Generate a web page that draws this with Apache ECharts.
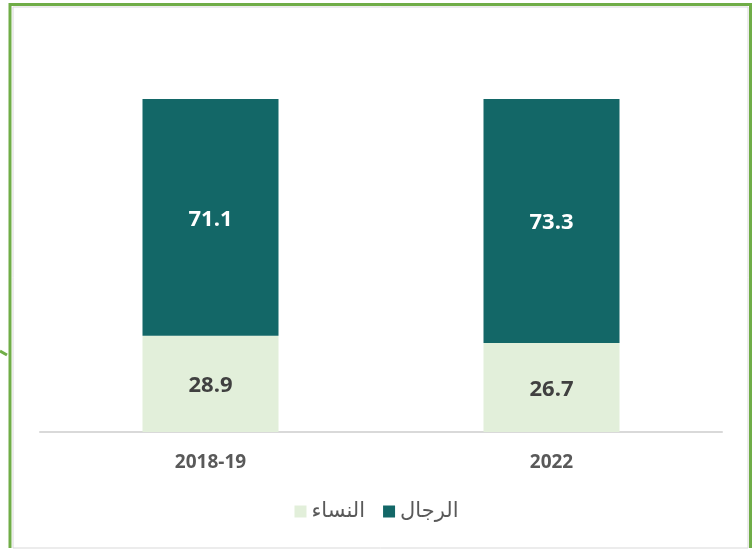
<!DOCTYPE html>
<html>
<head>
<meta charset="utf-8">
<script src="https://cdn.jsdelivr.net/npm/echarts@6/dist/echarts.min.js"></script>
<style>
  html, body { margin: 0; padding: 0; background: #fff; }
  #main { width: 753px; height: 552px; }
</style>
</head>
<body>
<div id="main"></div>
<script>
// categories and values (percent)
var years = ['2018-19', '2022'];
var women = [28.9, 26.7];
var men = [71.1, 73.3];
var womenName = 'النساء';
var menName = 'الرجال';

var dom = document.getElementById('main');
var chart = echarts.init(dom);

var option = {
    animation: false,
    textStyle: { fontFamily: '"Open Sans", "DejaVu Sans", sans-serif' },
    grid: { left: 40, right: 31, top: 99, bottom: 120 },
    legend: {
        data: [womenName, menName],
        bottom: 25,
        left: 'center',
        itemWidth: 12,
        itemHeight: 12,
        itemGap: 18,
        icon: 'rect',
        textStyle: { color: '#595959', fontSize: 21, fontFamily: '"DejaVu Sans", sans-serif' }
    },
    xAxis: {
        type: 'category',
        data: years,
        axisLine: { lineStyle: { color: '#d9d9d9', width: 2 } },
        axisTick: { show: false },
        axisLabel: { color: '#595959', fontSize: 19, fontWeight: 'bold', margin: 21 }
    },
    yAxis: {
        type: 'value',
        min: 0,
        max: 100,
        show: false
    },
    series: [
        {
            name: womenName,
            type: 'bar',
            stack: 'total',
            barWidth: 136,
            data: women,
            itemStyle: { color: '#e2efda' },
            label: {
                show: true,
                color: '#404040',
                fontSize: 22,
                fontWeight: 'bold',
                offset: [0, 2],
                formatter: function (p) { return p.value.toFixed(1); }
            }
        },
        {
            name: menName,
            type: 'bar',
            stack: 'total',
            barWidth: 136,
            data: men,
            itemStyle: { color: '#136767' },
            label: {
                show: true,
                color: '#ffffff',
                fontSize: 22,
                fontWeight: 'bold',
                offset: [0, 2],
                formatter: function (p) { return p.value.toFixed(1); }
            }
        }
    ],
    graphic: [
        {
            type: 'rect',
            shape: { x: 13, y: 7, width: 735, height: 541 },
            style: { fill: 'none', stroke: '#d9d9d9', lineWidth: 1 }
        },
        {
            type: 'polyline',
            shape: { points: [[10, 548], [10, 4.5], [750.5, 4.5], [750.5, 548]] },
            style: { fill: 'none', stroke: '#70ad47', lineWidth: 3 }
        },
        {
            type: 'line',
            shape: { x1: 0, y1: 351, x2: 7, y2: 355 },
            style: { stroke: '#70ad47', lineWidth: 3 }
        }
    ]
};

chart.setOption(option);
</script>
</body>
</html>
